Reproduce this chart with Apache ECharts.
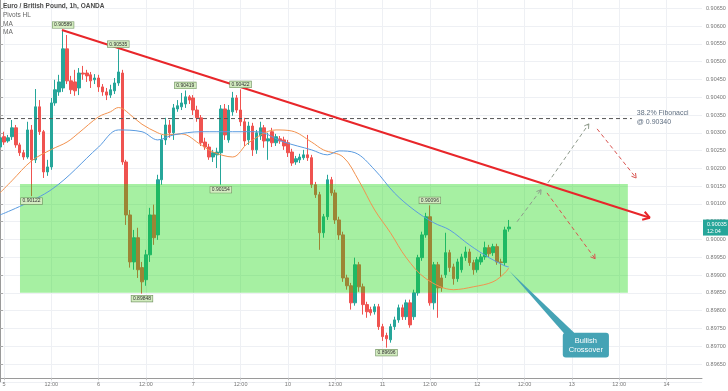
<!DOCTYPE html>
<html><head><meta charset="utf-8">
<script src="https://cdn.jsdelivr.net/npm/echarts@6/dist/echarts.min.js"></script>
<style>html,body{margin:0;padding:0;background:#fff}#c{width:728px;height:391px}</style>
</head><body><div id="c"></div>
<script>
// ---- categories (hourly slots) ----
const days = ['5','6','7','10','11','12','13','14'];
const firstSlot = '4|23';
const slotCount = 179;

// ---- candles ----
const opens = [
.90260,.90289,.90277,.90289,.90314,.90266,.90244,.90232,.90308,.90224,
.90373,.90303,.90190,.90204,.90384,.90415,.90426,.90536,.90446,.90443,
.90426,.90468,.90468,.90463,.90449,.90454,.90429,.90415,.90406,.90418,
.90440,.90468,.90218,.90069,.89937,.90005,.89921,.89887,.89957,.90069,
.90013,.90168,.90280,.90322,.90300,.90367,.90373,.90381,.90401,.90398,
.90364,.90342,.90274,.90260,.90232,.90238,.90244,.90367,.90280,.90359,
.90398,.90364,.90331,.90280,.90319,.90252,.90291,.90314,.90277,.90303,
.90272,.90283,.90280,.90272,.90246,.90218,.90224,.90230,.90238,.90230,
.90154,.90126,.90019,.90064,.90168,.90131,.90055,.90013,.89892,.89870,
.89822,.89929,.89867,.89817,.89803,.89797,.89811,.89755,.89730,.89718,
.89755,.89774,.89808,.89783,.89822,.89783,.89850,.89949,.90013,.90064,
.89822,.89929,.89892,.89901,.89963,.89923,.89890,.89915,.89949,.89965,
.89935,.89915,.89937,.89951,.89977,.89963,.89980,.89937,.89935,.90030];
const closes = [
.90286,.90274,.90286,.90314,.90266,.90244,.90232,.90308,.90224,.90373,
.90303,.90190,.90204,.90384,.90421,.90443,.90536,.90446,.90421,.90418,
.90468,.90465,.90460,.90446,.90454,.90429,.90415,.90406,.90421,.90440,
.90471,.90218,.90069,.89937,.90005,.89915,.89881,.89957,.90069,.90005,
.90168,.90280,.90322,.90300,.90370,.90376,.90384,.90401,.90392,.90364,
.90342,.90272,.90260,.90232,.90244,.90246,.90367,.90294,.90364,.90398,
.90364,.90331,.90277,.90319,.90252,.90300,.90314,.90277,.90283,.90272,
.90289,.90277,.90263,.90244,.90215,.90227,.90232,.90238,.90230,.90154,
.90126,.90019,.90064,.90168,.90131,.90055,.90013,.89892,.89870,.89822,
.89929,.89867,.89817,.89797,.89794,.89811,.89755,.89727,.89721,.89755,
.89774,.89808,.89783,.89822,.89760,.89850,.89949,.90013,.90064,.89822,
.89929,.89864,.89864,.89963,.89921,.89890,.89937,.89951,.89965,.89935,
.89915,.89943,.89951,.89977,.89960,.89980,.89937,.89935,.90027,.90035];
const lows = [
.90252,.90266,.90272,.90280,.90258,.90235,.90224,.90227,.90122,.90215,
.90294,.90173,.90179,.90196,.90376,.90404,.90415,.90437,.90409,.90404,
.90406,.90449,.90443,.90426,.90437,.90415,.90404,.90392,.90398,.90409,
.90432,.90210,.90041,.89921,.89915,.89892,.89848,.89870,.89937,.89985,
.89999,.90154,.90266,.90286,.90280,.90359,.90364,.90370,.90381,.90350,
.90331,.90263,.90252,.90224,.90218,.90201,.90154,.90280,.90272,.90348,
.90356,.90319,.90263,.90266,.90235,.90241,.90280,.90258,.90224,.90260,
.90263,.90269,.90252,.90232,.90207,.90210,.90215,.90224,.90221,.90145,
.90117,.89971,.90005,.90055,.90123,.90044,.89999,.89881,.89859,.89803,
.89814,.89853,.89789,.89780,.89786,.89789,.89746,.89715,.89696,.89710,
.89746,.89766,.89774,.89774,.89752,.89774,.89842,.89940,.90005,.89814,
.89803,.89780,.89853,.89892,.89909,.89873,.89881,.89907,.89940,.89926,
.89901,.89907,.89929,.89943,.89951,.89954,.89929,.89895,.89926,.90022];
const highs = [
.90300,.90303,.90294,.90336,.90322,.90272,.90252,.90331,.90322,.90423,
.90392,.90308,.90224,.90398,.90449,.90463,.90589,.90575,.90460,.90477,
.90482,.90488,.90477,.90471,.90465,.90463,.90437,.90426,.90435,.90454,
.90535,.90477,.90224,.90083,.90027,.90033,.89937,.89971,.90089,.90098,
.90182,.90294,.90342,.90336,.90381,.90392,.90412,.90419,.90406,.90406,
.90376,.90350,.90286,.90269,.90252,.90258,.90378,.90381,.90378,.90415,
.90406,.90422,.90342,.90331,.90328,.90308,.90331,.90322,.90300,.90314,
.90297,.90291,.90289,.90280,.90255,.90235,.90241,.90252,.90294,.90238,
.90162,.90134,.90072,.90182,.90176,.90140,.90064,.90022,.89901,.89878,
.89949,.89937,.89876,.89825,.89811,.89819,.89819,.89763,.89738,.89763,
.89783,.89817,.89817,.89831,.89831,.89859,.89957,.90022,.90075,.90096,
.89937,.89937,.89901,.90019,.89971,.89932,.89946,.89960,.89980,.89974,
.89943,.89951,.89960,.89994,.89985,.89988,.89988,.89946,.90036,.90055];

// ---- moving averages ----
const maFastIdx = [0,3,8,13,17,20,25,28,30,34,36,40,42,46,51,54,59,63,70,74,79,82,87,91,95,99,103,108,115,120,125,128,129];
const maFastVal = [0.90131,0.90165,0.90221,0.90253,0.90274,0.90300,0.90345,0.90359,0.90371,0.90342,0.90324,0.90300,0.90294,0.90297,0.90266,0.90246,0.90232,0.90272,0.90308,0.90305,0.90274,0.90252,0.90232,0.90165,0.90083,0.90019,0.89949,0.89890,0.89859,0.89867,0.89881,0.89906,0.89920];
const maSlowIdx = [0,13,25,30,36,40,44,51,59,65,72,79,83,86,90,95,100,105,110,114,119,124,128,129];
const maSlowVal = [0.90069,0.90140,0.90260,0.90308,0.90303,0.90280,0.90294,0.90303,0.90303,0.90303,0.90274,0.90252,0.90238,0.90249,0.90244,0.90196,0.90131,0.90083,0.90047,0.90027,0.89985,0.89949,0.89926,0.89923];

// ---- price axis ----
const yMin = 0.8960, yMax = 0.90675, yStep = 0.0005;
const lastPrice = 0.90035, lastTimer = '12:04';

// ---- annotations ----
const fibLevel = 0.90340, fibFrom = 0, fibTo = 160.2;
const fibText = ['38.2% Fibonacci', '@ 0.90340'];
const trendLine = [[15.7, 0.90589, 164.8, 0.90061]];
const grayPaths = [[131.1, 0.90050, 137.2, 0.90140], [138.9, 0.90159, 149.3, 0.90325]];
const redPaths = [[151.4, 0.90311, 161.3, 0.90173], [138.7, 0.90131, 150.9, 0.89946]];
const zone = [[5.07, 0.90156, 159.2, 0.89850]];
const pivotIdx   = [16, 30, 47, 61, 8, 56, 36, 109, 98];
const pivotPrice = [0.90589, 0.90535, 0.90419, 0.90422, 0.90122, 0.90154, 0.89848, 0.90096, 0.89696];
const pivotText  = ['0.90589','0.90535','0.90419','0.90422','0.90122','0.90154','0.89848','0.90096','0.89696'];
const pivotSide  = ['up','up','up','up','down','down','down','up','down'];
const calloutTip = [129.1, 0.89912];
const calloutBase = [[143.5, 0.89730], [145.6, 0.89738]];
const calloutBox = [142.7, 0.89738, 154.4, 0.89668];
const calloutText = 'Bullish\nCrossover';

// ---- build ----
const categories = [firstSlot];
days.forEach(d => { for (let h = 0; h < 24; h++) categories.push(d + '|' + h); });
categories.length = slotCount;
const showSlot = (i, v) => { const h = String(v).split('|')[1]; return h === '0' || h === '12'; };

const FONT = 'Liberation Sans, Arial, sans-serif';

function segRender(color, dash, width, head) {
  return function (params, api) {
    const a = api.coord([api.value(0), api.value(1)]);
    const b = api.coord([api.value(2), api.value(3)]);
    const ch = [{ type: 'line', shape: { x1: a[0], y1: a[1], x2: b[0], y2: b[1] },
      style: { stroke: color, lineWidth: width, lineDash: dash || null } }];
    if (head) {
      const ang = Math.atan2(b[1] - a[1], b[0] - a[0]);
      [-1, 1].forEach(s => {
        const t = ang + Math.PI + s * 0.55;
        ch.push({ type: 'line', shape: { x1: b[0], y1: b[1], x2: b[0] + head * Math.cos(t), y2: b[1] + head * Math.sin(t) },
          style: { stroke: color, lineWidth: width } });
      });
    }
    return { type: 'group', children: ch };
  };
}

const titleStyle = (bold, color) => ({ fontSize: 6.5, fontWeight: bold ? 'bold' : 'normal', color: color, fontFamily: FONT });

const chart = echarts.init(document.getElementById('c'), null, { renderer: 'canvas' });
chart.setOption({
  animation: false,
  backgroundColor: '#fff',
  textStyle: { fontFamily: FONT },
  title: [
    { text: 'Euro / British Pound, 1h, OANDA', left: 3, top: 3, padding: 0, textStyle: titleStyle(true, '#4a4a4a') },
    { text: 'Pivots HL', left: 3, top: 12, padding: 0, textStyle: titleStyle(false, '#666') },
    { text: 'MA', left: 3, top: 21, padding: 0, textStyle: titleStyle(false, '#666') },
    { text: 'MA', left: 3, top: 29, padding: 0, textStyle: titleStyle(false, '#666') }
  ],
  grid: { left: 0, right: 26, top: -0.6, bottom: 9.2, containLabel: false, outerBoundsMode: 'none' },
  xAxis: [
    { type: 'category', data: categories, boundaryGap: false, offset: -4,
      axisLine: { lineStyle: { color: '#9a9a9a' } },
      axisTick: { interval: showSlot, length: 2, lineStyle: { color: '#bbb' } },
      axisLabel: { interval: showSlot, fontSize: 5.5, color: '#777', margin: 4, fontFamily: FONT,
        formatter: v => { const p = v.split('|'); return p[1] === '0' ? p[0] : '12:00'; } },
      splitLine: { show: true, interval: showSlot, lineStyle: { color: '#eef0f4', width: 1 } } },
    { type: 'value', min: 0, max: slotCount - 1, show: false }
  ],
  yAxis: { type: 'value', position: 'right', min: yMin, max: yMax, interval: yStep,
    axisLine: { show: true, lineStyle: { color: '#9a9a9a' } },
    axisTick: { show: true, length: 3, lineStyle: { color: '#aaa' } },
    axisLabel: { fontSize: 5.5, color: '#777', margin: 4, showMinLabel: false, showMaxLabel: false, fontFamily: FONT,
      formatter: v => v.toFixed(5) },
    splitLine: { lineStyle: { color: '#eef0f4' } } },
  series: [
    { type: 'candlestick', xAxisIndex: 0, barWidth: 3,
      data: opens.map((o, i) => [o, closes[i], lows[i], highs[i]]),
      itemStyle: { color: '#26a69a', color0: '#ef5350', borderColor: '#26a69a', borderColor0: '#ef5350', borderWidth: 1 } },
    { type: 'line', xAxisIndex: 1, data: maFastIdx.map((x, i) => [x, maFastVal[i]]), smooth: 0.35, symbol: 'none',
      lineStyle: { color: '#f2924f', width: 1 } },
    { type: 'line', xAxisIndex: 1, data: maSlowIdx.map((x, i) => [x, maSlowVal[i]]), smooth: 0.35, symbol: 'none',
      lineStyle: { color: '#5a9be0', width: 1 } },
    { type: 'custom', xAxisIndex: 1, z: 3, silent: true, clip: false, data: zone,
      renderItem: (p, api) => {
        const a = api.coord([api.value(0), api.value(1)]), b = api.coord([api.value(2), api.value(3)]);
        return { type: 'rect', shape: { x: a[0], y: a[1], width: b[0] - a[0], height: b[1] - a[1] },
          style: { fill: 'rgba(20,215,10,0.38)' } };
      } },
    { type: 'custom', xAxisIndex: 1, z: 4, silent: true, clip: false, data: [[fibFrom, fibLevel, fibTo, fibLevel]],
      renderItem: (p, api) => {
        const a = api.coord([api.value(0), api.value(1)]), b = api.coord([api.value(2), api.value(3)]);
        return { type: 'group', children: [
          { type: 'line', shape: { x1: a[0], y1: a[1], x2: b[0], y2: b[1] }, style: { stroke: '#555', lineWidth: 1, lineDash: [4, 3] } },
          { type: 'text', style: { text: fibText.join('\n'), x: b[0] + 5, y: b[1] - 1.5, align: 'left', verticalAlign: 'middle',
            fill: '#5f6e80', fontSize: 7, lineHeight: 9, fontFamily: FONT } } ] };
      } },
    { type: 'custom', xAxisIndex: 1, z: 4, silent: true, clip: false, data: grayPaths, renderItem: segRender('#8f9b8c', [4, 3], 1, 5) },
    { type: 'custom', xAxisIndex: 1, z: 4, silent: true, clip: false, data: redPaths, renderItem: segRender('#d9534f', [4, 3], 1, 5) },
    { type: 'custom', xAxisIndex: 1, z: 4, silent: true, clip: false, data: trendLine, renderItem: segRender('#e8262a', null, 2, 8) },
    { type: 'custom', xAxisIndex: 1, z: 5, silent: true, clip: false, data: pivotIdx.map((x, i) => [x, pivotPrice[i], i]),
      renderItem: (p, api) => {
        const a = api.coord([api.value(0), api.value(1)]);
        const k = api.value(2), up = pivotSide[k] === 'up';
        return { type: 'text', style: { text: pivotText[k], x: a[0], y: up ? a[1] - 2 : a[1] + 2, align: 'center',
          verticalAlign: up ? 'bottom' : 'top', fill: '#333', fontSize: 5, fontFamily: FONT,
          backgroundColor: '#d3ecc0', borderColor: '#6f915f', borderWidth: 0.6, padding: [0.5, 1.5] } };
      } },
    { type: 'custom', xAxisIndex: 1, z: 5, silent: true, clip: false, data: [[calloutTip[0], calloutTip[1]]],
      renderItem: (p, api) => {
        const t = api.coord(calloutTip), b1 = api.coord(calloutBase[0]), b2 = api.coord(calloutBase[1]);
        const r1 = api.coord([calloutBox[0], calloutBox[1]]), r2 = api.coord([calloutBox[2], calloutBox[3]]);
        return { type: 'group', children: [
          { type: 'polygon', shape: { points: [t, b1, b2] }, style: { fill: '#45a3b5' } },
          { type: 'rect', shape: { x: r1[0], y: r1[1], width: r2[0] - r1[0], height: r2[1] - r1[1], r: 3 }, style: { fill: '#45a3b5' } },
          { type: 'text', style: { text: calloutText, x: (r1[0] + r2[0]) / 2, y: (r1[1] + r2[1]) / 2, align: 'center', verticalAlign: 'middle',
            fill: '#fff', fontSize: 7.5, lineHeight: 9, fontFamily: FONT } } ] };
      } },
    // last-price tag on the price axis
    { type: 'custom', xAxisIndex: 1, z: 6, silent: true, clip: false, data: [[slotCount - 1, lastPrice]],
      renderItem: (p, api) => {
        const a = api.coord([api.value(0), api.value(1)]);
        return { type: 'text', style: { text: lastPrice.toFixed(5) + '\n' + lastTimer, x: a[0] + 1, y: a[1] + 0.5,
          align: 'left', verticalAlign: 'middle', fill: '#fff', fontSize: 5.5, lineHeight: 7, fontFamily: FONT,
          backgroundColor: '#26a69a', padding: [1, 5, 1, 4] } };
      } }
  ]
});
</script>
</body></html>
